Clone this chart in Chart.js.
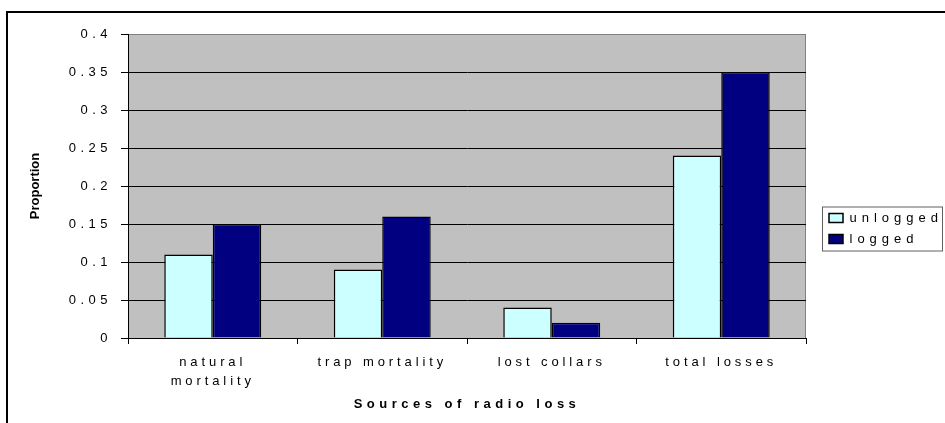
<!DOCTYPE html>
<html>
<head>
<meta charset="utf-8">
<script src="https://cdn.jsdelivr.net/npm/chart.js@4/dist/chart.umd.min.js"></script>
<style>
  html, body { margin: 0; padding: 0; background: #fff; }
  canvas { display: block; }
</style>
</head>
<body>
<canvas id="chart" width="945" height="423"></canvas>
<script>
const categories = [['natural', 'mortality'], 'trap mortality', 'lost collars', 'total losses'];
const unlogged = [0.11, 0.09, 0.04, 0.24];
const logged = [0.15, 0.16, 0.02, 0.35];
const yTicks = [0, 0.05, 0.1, 0.15, 0.2, 0.25, 0.3, 0.35, 0.4];

Chart.defaults.font.family = '"Liberation Sans", Arial, sans-serif';
Chart.defaults.color = '#000';

// canvas letterSpacing around a draw method, the old spreadsheet look
function withSpacing(fn, px) {
    return function (...args) {
        const ctx = this.ctx;
        const prev = ctx.letterSpacing;
        ctx.letterSpacing = px;
        const r = fn.apply(this, args);
        ctx.letterSpacing = prev;
        return r;
    };
}

const sheetLook = {
    id: 'sheetLook',
    beforeUpdate(chart) {
        const lg = chart.legend;
        if (!lg || lg._patched) return;
        const fit = lg.fit;
        lg.fit = function () {
            fit.call(this);
            this.width = 139;
        };
        const draw = lg.draw;
        lg.draw = function () {
            const ctx = this.ctx;
            ctx.save();
            ctx.translate(15, 0);
            const cy = (this.top + this.bottom) / 2;
            ctx.fillStyle = '#fff';
            ctx.strokeStyle = '#606060';
            ctx.lineWidth = 1;
            ctx.fillRect(this.left + 1.5, cy - 21.5, 120, 44);
            ctx.strokeRect(this.left + 1.5, cy - 21.5, 120, 44);
            ctx.letterSpacing = '5px';
            draw.call(this);
            ctx.letterSpacing = '0px';
            ctx.restore();
        };
        lg._patched = true;
    },
    afterLayout(chart) {
        const { x, y } = chart.scales;
        if (x._patched) return;
        x.drawLabels = withSpacing(x.drawLabels, '3.9px');
        x.drawTitle = withSpacing(x.drawTitle, '4.5px');
        y.drawLabels = withSpacing(y.drawLabels, '4.5px');
        x._patched = true;
    },
    beforeDraw(chart) {
        const { ctx, chartArea: a } = chart;
        ctx.save();
        // outer frame
        ctx.strokeStyle = '#000';
        ctx.lineWidth = 2;
        ctx.strokeRect(7, 12, 1000, 1000);
        // plot area
        ctx.fillStyle = '#C0C0C0';
        ctx.fillRect(a.left, a.top, a.right - a.left, a.bottom - a.top);
        ctx.strokeStyle = '#808080';
        ctx.lineWidth = 1;
        ctx.strokeRect(a.left + 0.5, a.top + 0.5, a.right - a.left - 1, a.bottom - a.top);
        ctx.restore();
    }
};

new Chart(document.getElementById('chart'), {
    type: 'bar',
    data: {
        labels: categories,
        datasets: [{
            label: 'unlogged',
            data: unlogged,
            backgroundColor: '#CCFFFF',
            borderColor: '#000',
            borderWidth: 1.5
        }, {
            label: 'logged',
            data: logged,
            backgroundColor: '#000080',
            borderColor: '#000',
            borderWidth: 1.5
        }]
    },
    options: {
        responsive: false,
        animation: false,
        events: [],
        categoryPercentage: 0.572,
        barPercentage: 1,
        layout: {
            padding: { left: 0, top: 34, right: 0, bottom: 0 }
        },
        plugins: {
            tooltip: { enabled: false },
            legend: {
                position: 'right',
                labels: {
                    boxWidth: 14,
                    boxHeight: 9,
                    padding: 8,
                    color: '#000',
                    font: { size: 13 }
                }
            }
        },
        scales: {
            x: {
                afterFit: s => { s.height = 85; },
                grid: {
                    drawOnChartArea: false,
                    offset: true,
                    tickLength: 6,
                    color: '#000'
                },
                border: { color: '#000', width: 1 },
                ticks: {
                    font: { size: 13, lineHeight: 1.45 },
                    color: '#000',
                    padding: 9,
                    maxRotation: 0,
                    autoSkip: false
                },
                title: {
                    display: true,
                    text: 'Sources of radio loss',
                    font: { size: 13, weight: 'bold' },
                    padding: { top: 0, bottom: 11 }
                }
            },
            y: {
                min: 0,
                max: 0.4,
                afterFit: s => { s.width = 128; },
                afterBuildTicks: s => { s.ticks = yTicks.map(v => ({ value: v })); },
                grid: {
                    color: c => (c.tick && c.tick.value === 0.4 ? '#808080' : '#000'),
                    tickColor: '#000',
                    tickLength: 7,
                    lineWidth: 1
                },
                border: { color: '#000', width: 1 },
                ticks: {
                    font: { size: 13 },
                    color: '#000',
                    padding: 9,
                    callback: v => String(+v.toFixed(2))
                },
                title: {
                    display: true,
                    text: 'Proportion',
                    font: { size: 13, weight: 'bold' },
                    padding: { top: 28, bottom: 0 }
                }
            }
        }
    },
    plugins: [sheetLook]
});
</script>
</body>
</html>
